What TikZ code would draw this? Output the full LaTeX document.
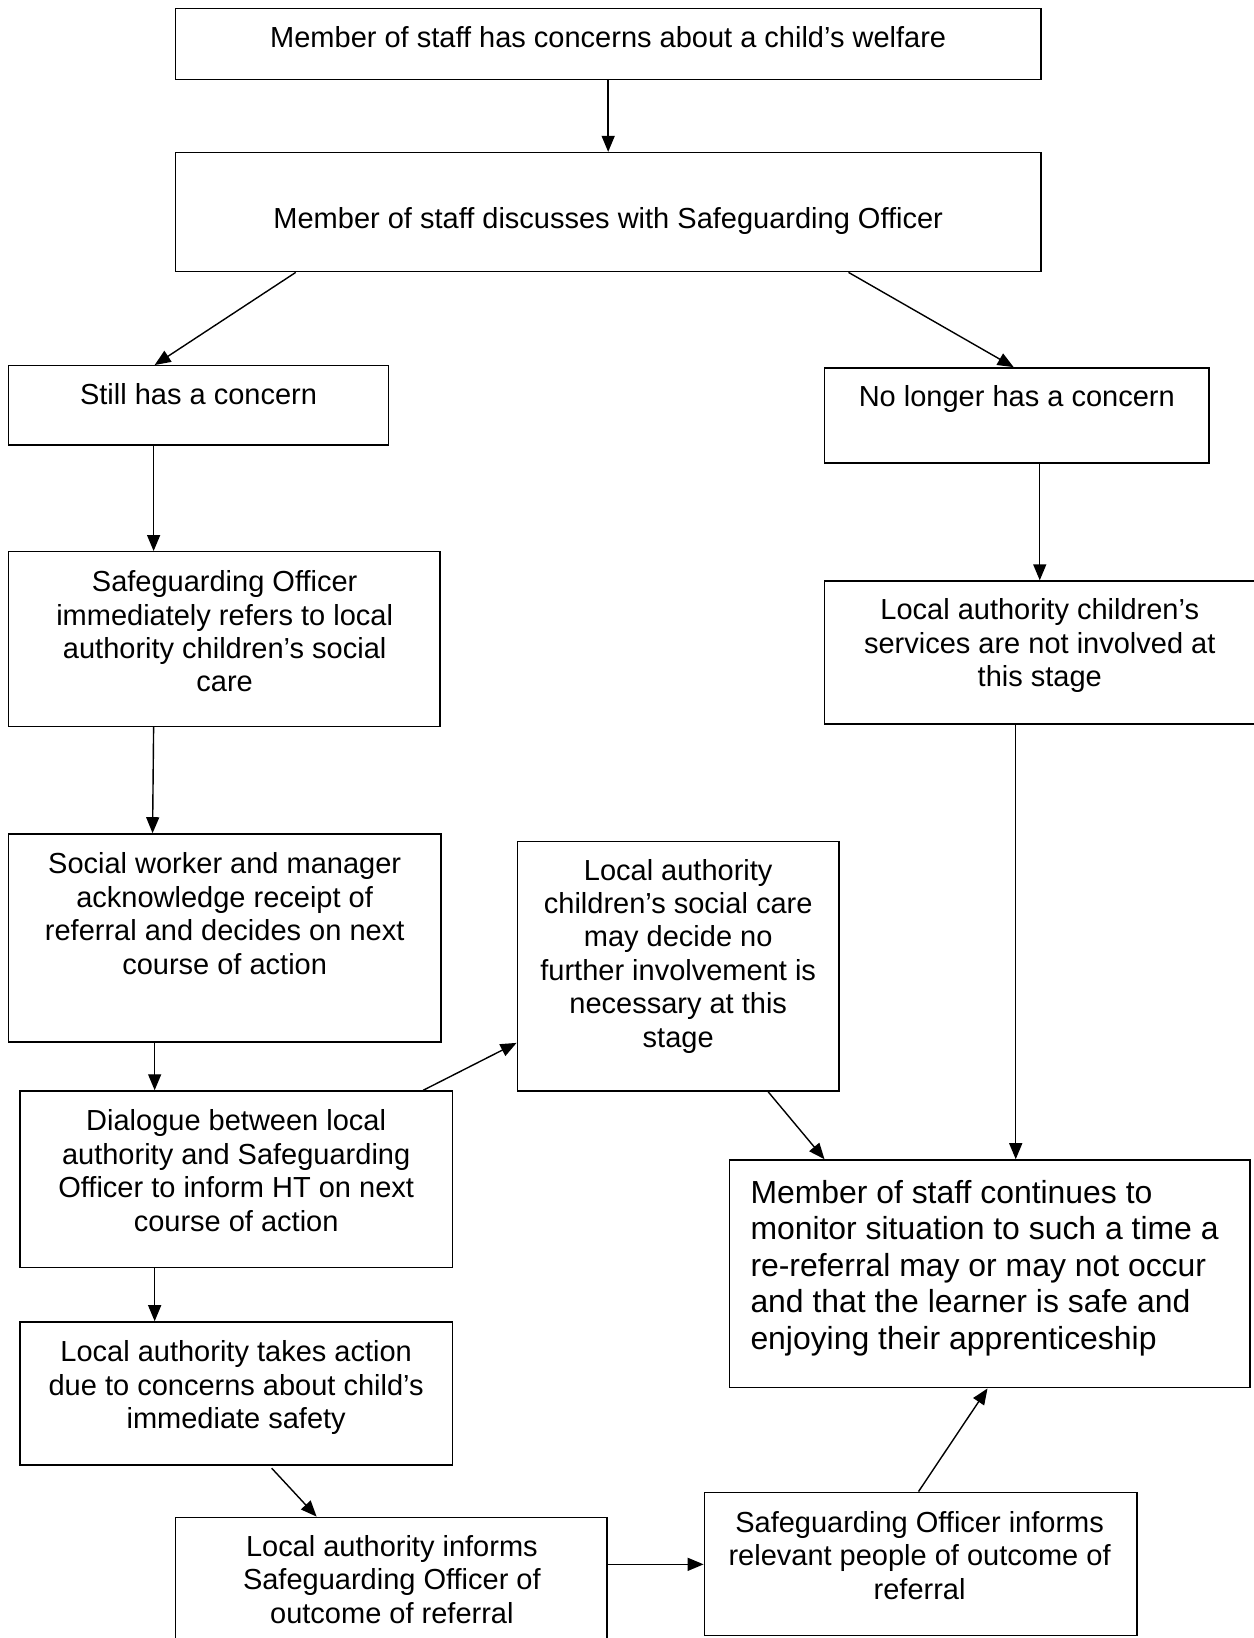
\documentclass[tikz,border=0pt]{standalone}
\usepackage{fontspec}
\setmainfont{Liberation Sans}
\usetikzlibrary{fit,arrows.meta}
\tikzset{
 box/.style={draw, line width=1.4pt, inner sep=0pt},
 txt/.style={inner sep=0pt, anchor=north, align=center, font=\fontsize{29}{33.4}\selectfont},
 bigtxt/.style={inner sep=0pt, anchor=north west, align=left, font=\fontsize{31.9}{36.6}\selectfont},
 arr/.style={line width=1.4pt, -{Triangle[length=16pt,width=13pt]}},
}
\begin{document}
\begin{tikzpicture}[x=1.045pt,y=-1.045pt]
\useasboundingbox (0,0) rectangle (1200,1567.5);
\clip (0,0) rectangle (1200,1567.5);
% boxes
\node[box, fit={(168,8)(996,76)}] (b1) {};
\node[box, fit={(168,146)(996,260)}] (b2) {};
\node[box, fit={(8,350)(372,426)}] (b3) {};
\node[box, fit={(789,352)(1157,443)}] (b4) {};
\node[box, fit={(8,528)(421,695)}] (b5) {};
\node[box, fit={(789,556)(1230,693)}] (b6) {};
\node[box, fit={(8,798)(422,997)}] (b7) {};
\node[box, fit={(495,805)(803,1044)}] (b8) {};
\node[box, fit={(19,1044)(433,1213)}] (b9) {};
\node[box, fit={(698,1110)(1196,1328)}] (b10) {};
\node[box, fit={(19,1265)(433,1402)}] (b11) {};
\node[box, fit={(168,1452)(581,1600)}] (b12) {};
\node[box, fit={(674,1428)(1088,1565)}] (b13) {};
% texts
\node[txt] (t1) at (582,25) {Member of staff has concerns about a child’s welfare};
\node[txt] (t2) at (582,198) {Member of staff discusses with Safeguarding Officer};
\node[txt] (t3) at (190,367) {Still has a concern};
\node[txt] (t4) at (973,369) {No longer has a concern};
\node[txt] (t5) at (215,546) {Safeguarding Officer\\immediately refers to local\\authority children’s social\\care};
\node[txt] (t6) at (995,573) {Local authority children’s\\services are not involved at\\this stage};
\node[txt] (t7) at (215,816) {Social worker and manager\\acknowledge receipt of\\referral and decides on next\\course of action};
\node[txt] (t8) at (649,822) {Local authority\\children’s social care\\may decide no\\further involvement is\\necessary at this\\stage};
\node[txt] (t9) at (226,1062) {Dialogue between local\\authority and Safeguarding\\Officer to inform HT on next\\course of action};
\node[bigtxt] (t10) at (718,1129) {Member of staff continues to\\monitor situation to such a time a\\re-referral may or may not occur\\and that the learner is safe and\\enjoying their apprenticeship};
\node[txt] (t11) at (226,1283) {Local authority takes action\\due to concerns about child’s\\immediate safety};
\node[txt] (t12) at (375,1469) {Local authority informs\\Safeguarding Officer of\\outcome of referral};
\node[txt] (t13) at (880,1446) {Safeguarding Officer informs\\relevant people of outcome of\\referral};
% connectors
\draw[arr] (b1.south) -- (b2.north);
\draw[arr] (283,0 |- b2.south) -- (148,0 |- b3.north);
\draw[arr] (812,0 |- b2.south) -- (970,0 |- b4.north);
\draw[arr] (147,0 |- b3.south) -- (147,0 |- b5.north);
\draw[arr] (995,0 |- b4.south) -- (995,0 |- b6.north);
\draw[arr] (147,0 |- b5.south) -- (146,0 |- b7.north);
\draw[arr] (972,0 |- b6.south) -- (972,0 |- b10.north);
\draw[arr] (148,0 |- b7.south) -- (148,0 |- b9.north);
\draw[arr] (405,0 |- b9.north) -- (b8.west |- 0,998);
\draw[arr] (735,0 |- b8.south) -- (789,0 |- b10.north);
\draw[arr] (148,0 |- b9.south) -- (148,0 |- b11.north);
\coordinate (c11) at (260,1405);
\draw[arr] (c11) -- (303,0 |- b12.north);
\draw[arr] (b12.east |- 0,1497) -- (b13.west |- 0,1497);
\draw[arr] (879,0 |- b13.north) -- (945,0 |- b10.south);
\end{tikzpicture}
\end{document}
